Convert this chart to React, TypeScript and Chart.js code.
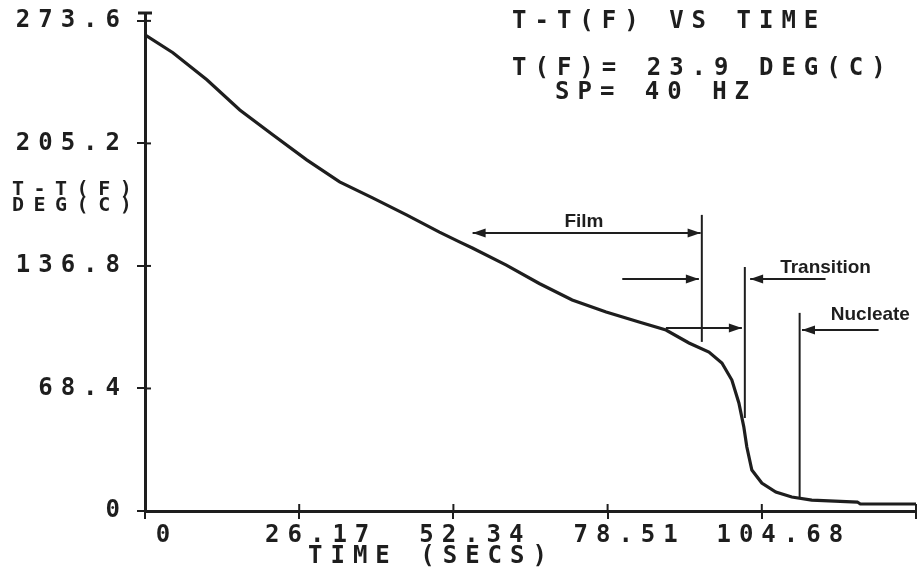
import React, { useEffect, useRef } from 'react';
import { Chart, registerables } from 'chart.js';

Chart.register(...registerables);

// ---- data ----
const timeSecs = [0, 4.74, 10.5, 16.09, 21.68, 27.44, 33.03, 38.62, 44.38, 49.97, 53.36, 55.56, 61.32, 66.91, 72.5, 78.26, 83.85, 88.42, 92.32, 95.71, 97.91, 99.6, 100.79, 101.63, 102.14, 102.99, 104.68, 107.06, 109.77, 113.16, 120.9, 121.4, 130.85];
const tempDiff = [265.8, 255.8, 240.7, 223.9, 210.0, 196.0, 183.7, 174.8, 165.3, 155.7, 150.2, 146.8, 137.3, 127.0, 117.8, 111.1, 105.5, 101.0, 93.8, 88.7, 82.6, 73.1, 60.3, 46.9, 35.7, 22.9, 15.6, 10.6, 7.8, 6.1, 5.0, 3.9, 3.9];

const xTicks = [0, 26.17, 52.34, 78.51, 104.68, 130.85];
const xTickLabels = ['0', '26.17', '52.34', '78.51', '104.68', ''];
const yTicks = [0, 68.4, 136.8, 205.2, 273.6];
const yTickLabels = ['0', '68.4', '136.8', '205.2', '273.6'];

const titleLines = ['T-T(F) VS TIME', 'T(F)= 23.9 DEG(C)', 'SP= 40 HZ'];
const yTitleLines = ['T-T(F)', 'DEG(C)'];
const xTitle = 'TIME (SECS)';

// regime markers (data coordinates)
const markerTimes = [94.5, 101.8, 111.1];
const markerFrom = [94.4, 51.9, 7.8];
const markerTo = [165.3, 136.2, 110.6];

const arrowFromT = [55.6, 81.0, 88.4, 115.5, 124.5];
const arrowToT = [94.3, 94.0, 101.3, 102.7, 111.5];
const arrowLevel = [155.2, 129.5, 102.2, 129.5, 101.1];
const arrowBothEnds = [true, false, false, false, false];

const regimeNames = ['Film', 'Transition', 'Nucleate'];
const regimeLabelT = [74.5, 115.5, 123.1];
const regimeLabelV = [161.4, 135.7, 109.4];

// ---- styles ----
const INK = '#1e1e1e';
const MONO = '"DejaVu Sans Mono", "Liberation Mono", monospace';
const SANS = '"Liberation Sans", Arial, sans-serif';
const SPACING = '8px';

const decorPlugin = {
  id: 'decor',
  beforeDraw(chart: any) {
    chart.ctx.letterSpacing = SPACING;
  },
  afterDraw(chart: any) {
    const { ctx, chartArea } = chart;
    const x = chart.scales.x;
    const y = chart.scales.y;
    const line = (x1: number, y1: number, x2: number, y2: number) => {
      ctx.beginPath();
      ctx.moveTo(x1, y1);
      ctx.lineTo(x2, y2);
      ctx.stroke();
    };
    const head = (tipX: number, tipY: number, dir: number) => {
      const len = 13;
      const hw = 4.5;
      ctx.beginPath();
      ctx.moveTo(tipX, tipY);
      ctx.lineTo(tipX - dir * len, tipY - hw);
      ctx.lineTo(tipX - dir * len, tipY + hw);
      ctx.closePath();
      ctx.fill();
    };
    ctx.save();
    ctx.strokeStyle = INK;
    ctx.fillStyle = INK;
    ctx.lineCap = 'butt';

    // inner parts of tick marks (ticks cross the axes)
    ctx.lineWidth = 2;
    x.ticks.forEach((t: any) => {
      const px = x.getPixelForValue(t.value);
      line(px, chartArea.bottom, px, chartArea.bottom - 7);
    });
    y.ticks.forEach((t: any) => {
      const py = y.getPixelForValue(t.value);
      line(chartArea.left, py, chartArea.left + 6, py);
    });
    // top cap of the y axis
    ctx.lineWidth = 3;
    line(chartArea.left - 7, chartArea.top, chartArea.left + 7, chartArea.top);

    // regime marker lines
    ctx.lineWidth = 2;
    markerTimes.forEach((t, i) => {
      const px = x.getPixelForValue(t);
      line(px, y.getPixelForValue(markerFrom[i]), px, y.getPixelForValue(markerTo[i]));
    });
    // arrows
    arrowFromT.forEach((t, i) => {
      const x1 = x.getPixelForValue(t);
      const x2 = x.getPixelForValue(arrowToT[i]);
      const py = y.getPixelForValue(arrowLevel[i]);
      line(x1, py, x2, py);
      const dir = x2 > x1 ? 1 : -1;
      head(x2, py, dir);
      if (arrowBothEnds[i]) head(x1, py, -dir);
    });

    // mono (printer) texts
    ctx.letterSpacing = SPACING;
    ctx.font = `bold 24px ${MONO}`;
    ctx.textBaseline = 'middle';
    ctx.textAlign = 'left';
    ctx.fillText(titleLines[0], 512, 22);
    ctx.fillText(titleLines[1], 512, 69);
    ctx.fillText(titleLines[2], 555, 93);
    ctx.fillText(xTitle, 308, 557);
    ctx.letterSpacing = '9.5px';
    ctx.font = `bold 20px ${MONO}`;
    ctx.fillText(yTitleLines[0], 12, 190);
    ctx.fillText(yTitleLines[1], 12, 206);

    // regime labels
    ctx.letterSpacing = '0px';
    ctx.font = `bold 19px ${SANS}`;
    ctx.textAlign = 'center';
    regimeNames.forEach((name, i) => {
      ctx.fillText(name, x.getPixelForValue(regimeLabelT[i]), y.getPixelForValue(regimeLabelV[i]));
    });
    ctx.restore();
  },
};

export default function App() {
  const canvasRef = useRef<HTMLCanvasElement | null>(null);

  useEffect(() => {
    if (!canvasRef.current) return;
    const points = timeSecs.map((t, i) => ({ x: t, y: tempDiff[i] }));
    const chart = new Chart(canvasRef.current, {
      type: 'line',
      data: {
        datasets: [
          {
            data: points,
            borderColor: INK,
            borderWidth: 3.2,
            pointRadius: 0,
            tension: 0,
            fill: false,
          },
        ],
      },
      options: {
        animation: false,
        responsive: true,
        maintainAspectRatio: false,
        layout: { padding: { top: 13, right: 5, left: 0, bottom: 0 } },
        plugins: {
          legend: { display: false },
          tooltip: { enabled: false },
          title: { display: false },
        },
        scales: {
          x: {
            type: 'linear',
            min: 0,
            max: 130.85,
            afterBuildTicks: (s: any) => {
              s.ticks = xTicks.map((v) => ({ value: v }));
            },
            afterFit: (s: any) => {
              s.height = 62;
              s.paddingLeft = 0;
              s.paddingRight = 0;
            },
            border: { display: true, color: INK, width: 3 },
            grid: { drawOnChartArea: false, drawTicks: true, tickLength: 8, color: INK, lineWidth: 2 },
            ticks: {
              autoSkip: false,
              maxRotation: 0,
              minRotation: 0,
              padding: 2,
              labelOffset: 22,
              color: INK,
              font: { family: MONO, size: 24, weight: 'bold' },
              callback: (_v: any, i: number) => xTickLabels[i],
            },
          },
          y: {
            type: 'linear',
            min: 0,
            max: 278,
            afterBuildTicks: (s: any) => {
              s.ticks = yTicks.map((v) => ({ value: v }));
            },
            afterFit: (s: any) => {
              s.width = 145;
              s.paddingTop = 0;
              s.paddingBottom = 0;
            },
            border: { display: true, color: INK, width: 3 },
            grid: { drawOnChartArea: false, drawTicks: true, tickLength: 8, color: INK, lineWidth: 2 },
            ticks: {
              autoSkip: false,
              padding: 9,
              color: INK,
              font: { family: MONO, size: 24, weight: 'bold' },
              callback: (_v: any, i: number) => yTickLabels[i],
            },
          },
        },
      } as any,
      plugins: [decorPlugin],
    });
    return () => chart.destroy();
  }, []);

  return (
    <div style={{ position: 'fixed', left: 0, top: 0, width: 921, height: 573, background: '#ffffff' }}>
      <canvas ref={canvasRef} style={{ display: 'block' }} />
    </div>
  );
}
